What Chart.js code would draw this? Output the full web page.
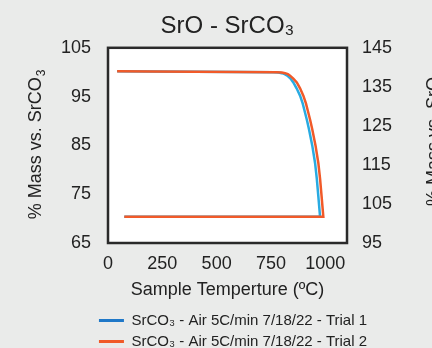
<!DOCTYPE html>
<html>
<head>
<meta charset="utf-8">
<script src="https://cdn.jsdelivr.net/npm/chart.js@4.4.1/dist/chart.umd.min.js"></script>
<style>
  html, body { margin: 0; padding: 0; background: #eaebea; }
  #wrap { width: 432px; height: 348px; }
</style>
</head>
<body>
<div id="wrap"><canvas id="tgaChart" width="432" height="348"></canvas></div>
<script>
// SrO - SrCO3, TGA in air (two trials)
const tempTrial1 = [42, 200, 400, 600, 760, 785, 800, 813, 825, 840, 853, 868, 884, 896, 907, 916, 925, 940, 953, 961, 968, 972, 976, 700, 400, 75];
const massTrial1 = [100.2, 100.15, 100.1, 100.05, 100.0, 99.95, 99.8, 99.6, 99.3, 98.7, 97.9, 96.7, 95.2, 93.6, 91.7, 90.1, 88.3, 85.0, 81.4, 78.2, 74.6, 72.5, 70.4, 70.4, 70.4, 70.4];

const tempTrial2 = [42, 200, 400, 600, 775, 800, 815, 828, 838, 853, 869, 884, 899, 911, 922, 931, 940, 955, 968, 976, 983, 987, 991, 700, 400, 75];
const massTrial2 = [100.2, 100.15, 100.1, 100.05, 100.0, 99.95, 99.8, 99.6, 99.3, 98.7, 97.9, 96.7, 95.2, 93.6, 91.7, 90.1, 88.3, 85.0, 81.4, 78.2, 74.6, 72.5, 70.4, 70.4, 70.4, 70.4];

const xTicks = [0, 250, 500, 750, 1000];
const leftTicks = [65, 75, 85, 95, 105];
const rightTicks = [95, 105, 115, 125, 135, 145];

const seriesLabels = ['SrCO\u2083 - Air 5C/min 7/18/22 - Trial 1', 'SrCO\u2083 - Air 5C/min 7/18/22 - Trial 2'];
const lineColors = ['#29abe2', '#f15a29'];
const legendColors = ['#1f78c8', '#f05a28'];

const FONT = "'Liberation Sans', Arial, Helvetica, sans-serif";
const TEXT = '#222';

function toPoints(xs, ys) {
    return xs.map(function(x, i) { return { x: x, y: ys[i] }; });
}

// fond gris + zone blanche + cadre
const backdrop = {
    id: 'backdrop',
    afterLayout(chart) {
        // décale la légende comme sur l'original
        const lg = chart.legend;
        if (lg) {
            lg.left += 17; lg.right += 17;
            lg.top += 5; lg.bottom += 5;
        }
    },
    beforeDraw(chart) {
        const { ctx, chartArea: a } = chart;
        ctx.save();
        ctx.fillStyle = '#eaebea';
        ctx.fillRect(0, 0, chart.width, chart.height);
        ctx.fillStyle = '#ffffff';
        ctx.fillRect(a.left, a.top, a.right - a.left, a.bottom - a.top);
        ctx.restore();
    },
    afterDatasetsDraw(chart) {
        const { ctx, chartArea: a } = chart;
        ctx.save();
        ctx.strokeStyle = '#2a2a2a';
        ctx.lineWidth = 2.5;
        ctx.strokeRect(a.left, a.top, a.right - a.left, a.bottom - a.top);
        ctx.restore();
    }
};

// titres verticaux (les deux se lisent de bas en haut)
function drawVertical(ctx, x, y, main, sub) {
    ctx.save();
    ctx.translate(x, y);
    ctx.rotate(-Math.PI / 2);
    ctx.textBaseline = 'alphabetic';
    ctx.textAlign = 'left';
    ctx.font = '18px ' + FONT;
    const w1 = ctx.measureText(main).width;
    ctx.font = '12px ' + FONT;
    const w2 = sub ? ctx.measureText(sub).width + 1 : 0;
    const start = -(w1 + w2) / 2;
    ctx.font = '18px ' + FONT;
    ctx.fillText(main, start, 0);
    if (sub) {
        ctx.font = '12px ' + FONT;
        ctx.fillText(sub, start + w1 + 1, 4);
    }
    ctx.restore();
}

const axisTitles = {
    id: 'axisTitles',
    afterDraw(chart) {
        const { ctx, chartArea: a } = chart;
        const mid = (a.top + a.bottom) / 2;
        ctx.save();
        ctx.fillStyle = TEXT;
        drawVertical(ctx, 41, mid - 1, '% Mass vs. SrCO', '3');
        drawVertical(ctx, 439, mid - 4, '% Mass vs. SrO', '');
        ctx.restore();
    }
};

new Chart(document.getElementById('tgaChart'), {
    type: 'scatter',
    data: {
        datasets: [{
            label: seriesLabels[0],
            data: toPoints(tempTrial1, massTrial1),
            showLine: true,
            borderColor: lineColors[0],
            backgroundColor: lineColors[0],
            borderWidth: 2.5,
            pointRadius: 0,
            tension: 0,
            order: 1,
            yAxisID: 'y'
        }, {
            label: seriesLabels[1],
            data: toPoints(tempTrial2, massTrial2),
            showLine: true,
            borderColor: lineColors[1],
            backgroundColor: lineColors[1],
            borderWidth: 2.5,
            pointRadius: 0,
            tension: 0,
            order: 0,
            yAxisID: 'y'
        }]
    },
    options: {
        responsive: false,
        animation: false,
        layout: { padding: { top: 0, left: 0, right: 0, bottom: -6 } },
        plugins: {
            tooltip: { enabled: false },
            title: {
                display: true,
                text: 'SrO - SrCO\u2083',
                color: TEXT,
                fullSize: false,
                font: { family: FONT, size: 24, weight: 'normal' },
                padding: { top: 12, bottom: 7 }
            },
            legend: {
                position: 'bottom',
                labels: {
                    color: TEXT,
                    font: { family: FONT, size: 15 },
                    boxWidth: 25,
                    boxHeight: 3,
                    padding: 6,
                    generateLabels: function(chart) {
                        return chart.data.datasets.map(function(ds, i) {
                            return {
                                text: ds.label,
                                fillStyle: legendColors[i],
                                strokeStyle: legendColors[i],
                                lineWidth: 0,
                                datasetIndex: i,
                                fontColor: TEXT
                            };
                        });
                    }
                }
            }
        },
        scales: {
            x: {
                type: 'linear',
                min: 0,
                max: 1100,
                afterFit: function(s) { s.height = 59; },
                afterBuildTicks: function(s) { s.ticks = xTicks.map(function(v) { return { value: v }; }); },
                grid: { display: false, drawTicks: false },
                border: { display: false },
                ticks: {
                    color: TEXT,
                    font: { family: FONT, size: 18 },
                    padding: 10,
                    maxRotation: 0,
                    callback: function(v) { return String(v); }
                },
                title: {
                    display: true,
                    text: 'Sample Temperture (\u00baC)',
                    color: TEXT,
                    font: { family: FONT, size: 18 },
                    padding: { top: 0, bottom: 1 }
                }
            },
            y: {
                type: 'linear',
                position: 'left',
                min: 65,
                max: 105,
                afterFit: function(s) { s.width = 108; },
                afterBuildTicks: function(s) { s.ticks = leftTicks.map(function(v) { return { value: v }; }); },
                grid: { display: false, drawTicks: false },
                border: { display: false },
                ticks: { color: TEXT, font: { family: FONT, size: 18 }, padding: 17 }
            },
            y1: {
                type: 'linear',
                position: 'right',
                min: 95,
                max: 145,
                afterFit: function(s) { s.width = 85; },
                afterBuildTicks: function(s) { s.ticks = rightTicks.map(function(v) { return { value: v }; }); },
                grid: { display: false, drawTicks: false },
                border: { display: false },
                ticks: { color: TEXT, font: { family: FONT, size: 18 }, padding: 15 }
            }
        }
    },
    plugins: [backdrop, axisTitles]
});
</script>
</body>
</html>
